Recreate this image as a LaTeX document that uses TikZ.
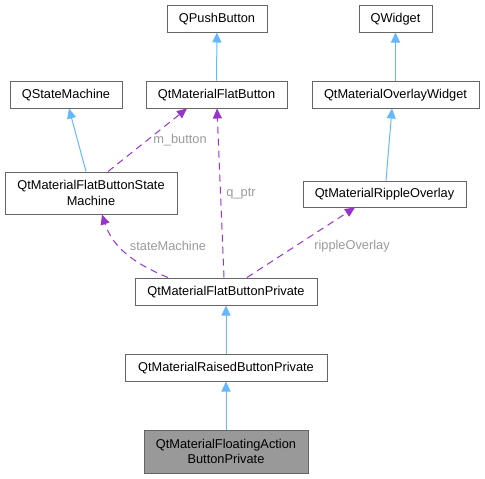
\documentclass[tikz,border=0pt]{standalone}
\usepackage{fontspec}
\setmainfont{Liberation Sans}
\usetikzlibrary{arrows.meta}
\definecolor{inherit}{HTML}{63B8FF}
\definecolor{usage}{HTML}{9A32CD}
\definecolor{boxline}{HTML}{666666}
\definecolor{lbl}{HTML}{9A9A9A}
\tikzset{
  cls/.style={draw=boxline, fill=white, line width=1pt, rectangle, inner sep=0pt, font=\fontsize{12.8}{15.5}\selectfont, align=center},
  oneline/.style={cls, text height=9.5pt, text depth=2.5pt},
  isa/.style={draw=inherit, line width=1pt, -{Triangle[length=10pt,width=9pt]}},
  uses/.style={draw=usage, line width=1pt, dashed, dash pattern=on 7pt off 5pt, -{Triangle[length=10pt,width=9pt]}},
  lab/.style={text=lbl, font=\fontsize{12.8}{15.5}\selectfont}
}
\begin{document}
\begin{tikzpicture}[x=1pt, y=-1pt]
\useasboundingbox (0,0) rectangle (485,479);
\node[oneline, minimum width=100pt, minimum height=27pt] (push) at (217,18.5) {QPushButton};
\node[oneline, minimum width=73pt, minimum height=27pt] (widget) at (395.5,18.5) {QWidget};
\node[oneline, minimum width=112pt, minimum height=27pt] (sm) at (66,94.5) {QStateMachine};
\node[oneline, minimum width=141pt, minimum height=27pt] (flat) at (216.5,94.5) {QtMaterialFlatButton};
\node[oneline, minimum width=167pt, minimum height=27pt] (overlay) at (395.5,94.5) {QtMaterialOverlayWidget};
\node[cls, minimum width=172pt, minimum height=42pt] (fbsm) at (91,193) {QtMaterialFlatButtonState\\Machine};
\node[oneline, minimum width=163pt, minimum height=26pt] (ripple) at (384.5,194) {QtMaterialRippleOverlay};
\node[oneline, minimum width=182pt, minimum height=27pt] (fbp) at (226,291.5) {QtMaterialFlatButtonPrivate};
\node[oneline, minimum width=202pt, minimum height=27pt] (rbp) at (226,367.5) {QtMaterialRaisedButtonPrivate};
\node[cls, fill={rgb,255:red,153;green,153;blue,153}, minimum width=164pt, minimum height=43pt] (fab) at (226,451.5) {QtMaterialFloatingAction\\ButtonPrivate};
% inheritance
\draw[isa] (flat) -- (push);
\draw[isa] (overlay) -- (widget);
\draw[isa] (fbsm.north -| 86,0) -- (sm.south -| 69,0);
\draw[isa] (ripple.north -| 386,0) -- (overlay.south -| 392,0);
\draw[isa] (rbp) -- (fbp);
\draw[isa] (fab) -- (rbp);
% members
\draw[uses] (fbsm.north -| 108,0) -- (flat.south -| 187,0);
\node[lab] (mbutton) at (180,140) {m\_button};
\draw[uses] (fbp.north -| 224,0) -- (flat.south -| 217,0);
\node[lab] (qptr) at (241,194) {q\_ptr};
\draw[uses] (fbp.north -| 168,0) .. controls (130,262) and (112,245) .. (fbsm.south -| 102,0);
\node[lab] (smlab) at (168,246) {stateMachine};
\draw[uses] (fbp.north -| 247,0) -- (ripple.south -| 355,0);
\node[lab] (rlab) at (352,246) {rippleOverlay};
\end{tikzpicture}
\end{document}
